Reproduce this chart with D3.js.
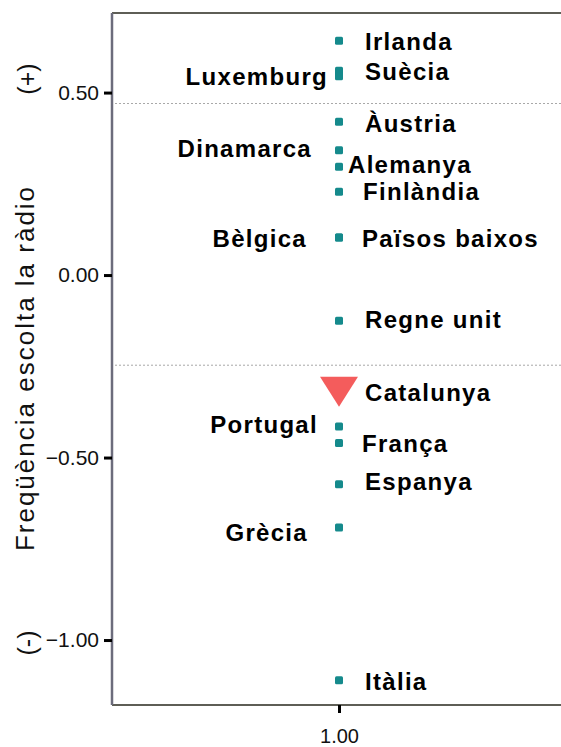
<!DOCTYPE html>
<html>
<head>
<meta charset="utf-8">
<script src="https://cdn.jsdelivr.net/npm/d3@7"></script>
<style>
  body { margin: 0; background: #fff; }
  svg { display: block; }
</style>
</head>
<body>
<div id="chart"></div>
<script>
// data
const countries = ["Irlanda", "Suècia", "Luxemburg", "Àustria", "Dinamarca", "Alemanya", "Finlàndia",
    "Bèlgica", "Països baixos", "Regne unit", "Portugal", "França", "Espanya", "Grècia", "Itàlia"];
const values = [0.642, 0.560, 0.545, 0.420, 0.342, 0.297, 0.228,
    0.103, 0.103, -0.125, -0.415, -0.460, -0.573, -0.692, -1.110];
const labelSide = ["right", "right", "left", "right", "left", "right", "right",
    "left", "right", "right", "left", "right", "right", "left", "right"];
const catLabel = "Catalunya";
const catValue = -0.32;
const refLines = [0.47, -0.247];
const yTicks = [0.5, 0, -0.5, -1];
const xTicks = [1];
const yTitle = "Freqüència escolta la ràdio";

// label nudges (layout only)
const labelDx = [26, 26, -11, 26, -27, 9, 24, -32, 23, 26, -21, 23, 26, -31, 26];
const labelDy = [9, 9, 9, 10, 7, 6, 8, 10, 10, 7, 6, 9, 6, 13, 10];

const width = 561, height = 747;
const margin = { top: 13, right: 0, bottom: 42, left: 112 };

const svg = d3.select("#chart").append("svg")
    .attr("width", width)
    .attr("height", height);

const y = d3.scaleLinear()
    .domain([0.718, -1.178])
    .range([margin.top, height - margin.bottom]);

const x = d3.scaleLinear()
    .domain([0, 2])
    .range([margin.left, 566]);

// reference lines
svg.selectAll(".ref")
    .data(refLines)
    .join("line")
    .attr("x1", margin.left + 3)
    .attr("x2", width)
    .attr("y1", d => y(d))
    .attr("y2", d => y(d))
    .attr("stroke", "#a8a8a8")
    .attr("stroke-width", 1)
    .attr("stroke-dasharray", "2,2");

// frame: top and bottom lines
svg.append("line")
    .attr("x1", margin.left).attr("x2", width)
    .attr("y1", margin.top).attr("y2", margin.top)
    .attr("stroke", "#5e5e56").attr("stroke-width", 2);
svg.append("line")
    .attr("x1", margin.left).attr("x2", width)
    .attr("y1", height - margin.bottom).attr("y2", height - margin.bottom)
    .attr("stroke", "#5e5e56").attr("stroke-width", 2);

// y axis
const yAxis = svg.append("g")
    .attr("transform", `translate(${margin.left},0)`)
    .call(d3.axisLeft(y).tickValues(yTicks).tickFormat(d3.format(".2f")).tickSize(8).tickPadding(5));
yAxis.select(".domain")
    .attr("d", `M0,${margin.top}V${height - margin.bottom}`)
    .attr("stroke", "#6c6c7c").attr("stroke-width", 2.5);
yAxis.selectAll(".tick line").attr("stroke", "#000").attr("stroke-width", 3);
yAxis.selectAll(".tick text")
    .attr("fill", "#111")
    .style("font-family", "'Liberation Sans', Arial, sans-serif")
    .style("font-size", "21px");

// x axis
const xAxis = svg.append("g")
    .attr("transform", `translate(0,${height - margin.bottom})`)
    .call(d3.axisBottom(x).tickValues(xTicks).tickFormat(d3.format(".2f")).tickSize(8).tickPadding(16));
xAxis.select(".domain").remove();
xAxis.selectAll(".tick line").attr("stroke", "#000").attr("stroke-width", 3);
xAxis.selectAll(".tick text")
    .attr("fill", "#111")
    .style("font-family", "'Liberation Sans', Arial, sans-serif")
    .style("font-size", "20px");

// y title and (+)/(-) marks
const rotText = (txt, cx, cy, size, spacing) => svg.append("text")
    .attr("transform", `translate(${cx},${cy}) rotate(-90)`)
    .attr("text-anchor", "middle")
    .attr("dominant-baseline", "central")
    .style("font-family", "'Liberation Sans', Arial, sans-serif")
    .style("font-size", size + "px")
    .style("letter-spacing", spacing + "px")
    .attr("fill", "#111")
    .text(txt);

rotText(yTitle, 25, 368, 26, 2);
rotText("(+)", 27, 79, 25, 0);
rotText("(-)", 27, 643, 25, 0);

// points
const pts = countries.map((c, i) => ({ name: c, v: values[i], side: labelSide[i], dx: labelDx[i], dy: labelDy[i] }));

svg.selectAll(".marker")
    .data(pts)
    .join("rect")
    .attr("class", "marker")
    .attr("x", d => x(1) - 4)
    .attr("y", d => y(d.v) - 4)
    .attr("width", 8)
    .attr("height", 8)
    .attr("rx", 1.5)
    .attr("fill", "#158a8c");

svg.selectAll(".lbl")
    .data(pts)
    .join("text")
    .attr("class", "lbl")
    .attr("x", d => x(1) + d.dx)
    .attr("y", d => y(d.v) + d.dy)
    .attr("text-anchor", d => d.side == "left" ? "end" : "start")
    .style("font-family", "'Liberation Sans', Arial, sans-serif")
    .style("font-size", "24px")
    .style("font-weight", "bold")
    .style("letter-spacing", "1.3px")
    .attr("fill", "#000")
    .text(d => d.name);

// Catalunya triangle
const cx = x(1), cy = y(catValue);
svg.append("path")
    .attr("d", `M${cx - 19},${cy - 15}L${cx + 19},${cy - 15}L${cx},${cy + 15}Z`)
    .attr("fill", "#f45c5c");

svg.append("text")
    .attr("x", cx + 26)
    .attr("y", cy + 9)
    .style("font-family", "'Liberation Sans', Arial, sans-serif")
    .style("font-size", "24px")
    .style("font-weight", "bold")
    .style("letter-spacing", "1.3px")
    .attr("fill", "#000")
    .text(catLabel);
</script>
</body>
</html>
